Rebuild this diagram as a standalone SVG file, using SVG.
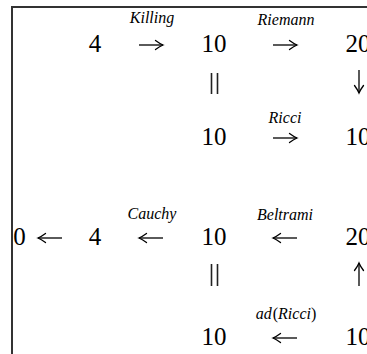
<svg xmlns="http://www.w3.org/2000/svg" width="367" height="354" viewBox="0 0 367 354">
<style>
.n{font-family:"Liberation Serif","Times New Roman",serif;font-size:25px;fill:#000;text-anchor:middle}
.l{font-family:"Liberation Serif","Times New Roman",serif;font-size:16px;font-style:italic;fill:#000;text-anchor:middle}
.u{font-style:normal}
.c{fill:none;stroke:#000;stroke-width:1.3;marker-end:url(#ah)}
.eq{fill:none;stroke:#222;stroke-width:1.6}
</style>
<defs>
<marker id="ah" markerUnits="userSpaceOnUse" viewBox="-9 -6 11 12" refX="0" refY="0" markerWidth="11" markerHeight="12" orient="auto" overflow="visible">
<path d="M-7.5,-4.5 Q-3,-1.2 0,0 Q-3,1.2 -7.5,4.5" fill="none" stroke="#000" stroke-width="1.3" stroke-linecap="round"/>
</marker>
</defs>
<rect width="367" height="354" fill="#fff"/>
<path d="M12 354 V7 H367" fill="none" stroke="#333" stroke-width="2"/>
<g id="n4a"><text class="n" x="95" y="52">4</text></g>
<g id="n10a"><text class="n" x="214" y="52">10</text></g>
<g id="n20a"><text class="n" x="358" y="52">20</text></g>
<g id="n10b"><text class="n" x="214" y="145">10</text></g>
<g id="n10c"><text class="n" x="358" y="145">10</text></g>
<g id="n0"><text class="n" x="19.5" y="245">0</text></g>
<g id="n4b"><text class="n" x="95" y="245">4</text></g>
<g id="n10d"><text class="n" x="214" y="245">10</text></g>
<g id="n20b"><text class="n" x="358" y="245">20</text></g>
<g id="n10e"><text class="n" x="214" y="345">10</text></g>
<g id="n10f"><text class="n" x="358" y="345">10</text></g>
<g id="connectors">
<path class="c" d="M139 45 H163"/>
<text class="l" x="152" y="23">Killing</text>
<path class="c" d="M273 45 H297"/>
<text class="l" x="286" y="25">Riemann</text>
<path class="eq" d="M211.5 73 V94 M217.5 73 V94"/>
<path class="c" d="M359 70 V93"/>
<path class="c" d="M273 138 H297"/>
<text class="l" x="285" y="123">Ricci</text>
<path class="c" d="M62 238 H38"/>
<path class="c" d="M163 238 H139"/>
<text class="l" x="152" y="219">Cauchy</text>
<path class="c" d="M297 238 H273"/>
<text class="l" x="285" y="220">Beltrami</text>
<path class="eq" d="M211.5 264 V286 M217.5 264 V286"/>
<path class="c" d="M359 286 V263"/>
<path class="c" d="M297 338 H273"/>
<text class="l" x="286" y="319">ad<tspan class="u" dx="1">(</tspan>Ricci<tspan class="u">)</tspan></text>
</g>
</svg>
